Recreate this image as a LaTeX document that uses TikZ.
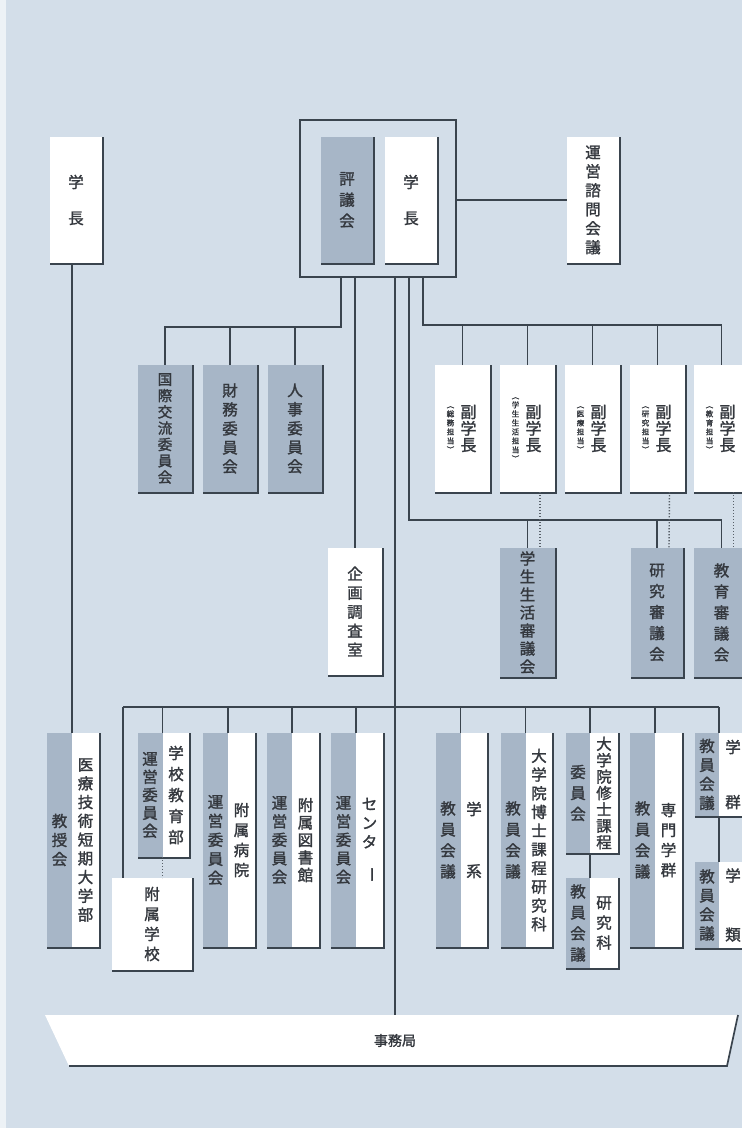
\documentclass[tikz,border=0pt]{standalone}
\usepackage{fontspec}
\usepackage{graphicx}
\newfontfamily\jp[FakeBold=1.6]{Noto Sans CJK JP}
\definecolor{bg}{RGB}{211,222,233}
\definecolor{gbox}{RGB}{167,182,199}
\definecolor{lnc}{RGB}{58,68,78}
\definecolor{txt}{RGB}{52,56,62}
\tikzset{
  ln/.style={draw=lnc, line width=1.6},
  dotl/.style={draw=lnc!85, line width=1.4, dash pattern=on 1.3 off 1.7},
  shl/.style={draw=lnc, line width=1.7},
  wbox/.style={fill=white, inner sep=0, outer sep=0, text=txt},
  gbx/.style={fill=gbox, inner sep=0, outer sep=0, text=txt},
  vt/.style={align=center, text=txt, inner sep=0, font={\jp\fontsize{15.5}{#1}\selectfont}},
  vs/.style={align=center, text=txt, inner sep=0, font={\jp\fontsize{7.5}{9}\selectfont}},
}
\newcommand\shd[2]{\draw[shl] ([shift={(0.8,0)}]#1.north east) -- ([shift={(0.8,0.8)}]#1.south east) -- ([shift={(0,0.8)}]#2.south west);}
\begin{document}
\begin{tikzpicture}[x=1pt,y=-1pt]
\useasboundingbox (0,0) rectangle (742,1128);
\clip (0,0) rectangle (742,1128);
\fill[bg] (0,0) rectangle (742,1128);
\fill[white!60!bg] (0,0) rectangle (6,1128);

% ---------- top ----------
\node[wbox, minimum width=52, minimum height=126, vt=36] (gl) at (76,200) {学\\長};
\node[draw=lnc, line width=1.8, minimum width=156, minimum height=157, inner sep=0] (frame) at (378,198.5) {};
\node[gbx, minimum width=52, minimum height=126, vt=21] (hyo) at (347,200) {評\\議\\会};
\node[wbox, minimum width=52, minimum height=126, vt=36] (gc) at (411,200) {学\\長};
\node[wbox, minimum width=52, minimum height=126, vt=19] (us) at (593,200) {運\\営\\諮\\問\\会\\議};
\shd{gl}{gl} \shd{hyo}{hyo} \shd{gc}{gc} \shd{us}{us}
\draw[ln] (us.west -| frame.east) -- (us.west);

% ---------- committees ----------
\node[gbx, minimum width=54, minimum height=127, vt=16.3, font={\jp\fontsize{14.5}{16.3}\selectfont}] (kok) at (165,428.5) {国\\際\\交\\流\\委\\員\\会};
\node[gbx, minimum width=54, minimum height=127, vt=19] (zai) at (230,428.5) {財\\務\\委\\員\\会};
\node[gbx, minimum width=54, minimum height=127, vt=19] (jin) at (295,428.5) {人\\事\\委\\員\\会};
\shd{kok}{kok} \shd{zai}{zai} \shd{jin}{jin}
\coordinate (b1) at (341,327);
\draw[ln] (frame.south -| b1) -- (b1) -| (kok.north);
\draw[ln] (zai.north) -- (zai.north |- b1);
\draw[ln] (jin.north) -- (jin.north |- b1);

% ---------- planning office ----------
\node[wbox, minimum width=54, minimum height=127, vt=19] (kik) at (355,611.5) {企\\画\\調\\査\\室};
\shd{kik}{kik}
\draw[ln] (frame.south -| kik.north) -- (kik.north);

% ---------- vice presidents ----------
\node[wbox, minimum width=55, minimum height=127] (vp1) at (462.5,428.5) {};
\node[wbox, minimum width=55, minimum height=127] (vp2) at (527.5,428.5) {};
\node[wbox, minimum width=55, minimum height=127] (vp3) at (592.5,428.5) {};
\node[wbox, minimum width=55, minimum height=127] (vp4) at (657.5,428.5) {};
\node[wbox, minimum width=55, minimum height=127] (vp5) at (721.5,428.5) {};
\shd{vp1}{vp1} \shd{vp2}{vp2} \shd{vp3}{vp3} \shd{vp4}{vp4} \shd{vp5}{vp5}
\node[vt=16.5, font={\jp\fontsize{16}{16.5}\selectfont}] (vp1m) at ([xshift=6]vp1.center) {副\\学\\長};
\node[vt=16.5, font={\jp\fontsize{16}{16.5}\selectfont}] (vp2m) at ([xshift=6]vp2.center) {副\\学\\長};
\node[vt=16.5, font={\jp\fontsize{16}{16.5}\selectfont}] (vp3m) at ([xshift=6]vp3.center) {副\\学\\長};
\node[vt=16.5, font={\jp\fontsize{16}{16.5}\selectfont}] (vp4m) at ([xshift=6]vp4.center) {副\\学\\長};
\node[vt=16.5, font={\jp\fontsize{16}{16.5}\selectfont}] (vp5m) at ([xshift=6]vp5.center) {副\\学\\長};
\node[vs] (vp1s) at ([xshift=-12,yshift=-1]vp1.center) {︵\\総\\務\\担\\当\\︶};
\node[vs] (vp2s) at ([xshift=-12,yshift=-1]vp2.center) {︵\\学\\生\\生\\活\\担\\当\\︶};
\node[vs] (vp3s) at ([xshift=-12,yshift=-1]vp3.center) {︵\\医\\療\\担\\当\\︶};
\node[vs] (vp4s) at ([xshift=-12,yshift=-1]vp4.center) {︵\\研\\究\\担\\当\\︶};
\node[vs] (vp5s) at ([xshift=-12,yshift=-1]vp5.center) {︵\\教\\育\\担\\当\\︶};
\coordinate (b2) at (423,325);
\draw[ln] (frame.south -| b2) -- (b2) -| (vp5.north);
\foreach \v in {vp1,vp2,vp3,vp4} \draw[ln] (\v.north) -- (\v.north |- b2);

% ---------- councils ----------
\node[gbx, minimum width=55, minimum height=129, vt=18] (gsc) at (527.5,612.5) {学\\生\\生\\活\\審\\議\\会};
\node[gbx, minimum width=53, minimum height=129, vt=21] (ksc) at (657,612.5) {研\\究\\審\\議\\会};
\node[gbx, minimum width=55, minimum height=129, vt=21] (esc) at (721.5,612.5) {教\\育\\審\\議\\会};
\shd{gsc}{gsc} \shd{ksc}{ksc} \shd{esc}{esc}
\coordinate (b3) at (409,520);
\draw[ln] (frame.south -| b3) -- (b3) -| (esc.north);
\draw[ln] (gsc.north) -- (gsc.north |- b3);
\draw[ln] (ksc.north) -- (ksc.north |- b3);
\draw[dotl] ([xshift=12.5]vp2.south) -- ([xshift=12.5]gsc.north);
\draw[dotl] ([xshift=12]vp4.south) -- ([xshift=12]ksc.north);
\draw[dotl] ([xshift=12]vp5.south) -- ([xshift=12]esc.north);

% ---------- bottom row ----------
\node[gbx, minimum width=25, minimum height=214, vt=19] (tdg) at (59.5,840) {教\\授\\会};
\node[wbox, minimum width=27, minimum height=214, vt=18.75] (tdw) at (85.5,840) {医\\療\\技\\術\\短\\期\\大\\学\\部};
\shd{tdw}{tdg}
\draw[ln] (tdw.north west) -- (tdw.north west |- gl.south);

\node[gbx, minimum width=25, minimum height=124, vt=18] (gkg) at (150,795) {運\\営\\委\\員\\会};
\node[wbox, minimum width=27, minimum height=124, vt=21] (gkw) at (176,795) {学\\校\\教\\育\\部};
\shd{gkw}{gkg}
\node[wbox, minimum width=80, minimum height=92, vt=20] (gakko) at (152,924) {附\\属\\学\\校};
\shd{gakko}{gakko}

\node[gbx, minimum width=25, minimum height=214, vt=19] (hpg) at (215.5,840) {運\\営\\委\\員\\会};
\node[wbox, minimum width=27, minimum height=214, vt=20] (hpw) at (241.5,840) {附\\属\\病\\院};
\shd{hpw}{hpg}
\node[gbx, minimum width=25, minimum height=214, vt=18.5] (lbg) at (279.5,840) {運\\営\\委\\員\\会};
\node[wbox, minimum width=27, minimum height=214, vt=17.5] (lbw) at (305.5,840) {附\\属\\図\\書\\館};
\shd{lbw}{lbg}
\node[gbx, minimum width=25, minimum height=214, vt=18.5] (cng) at (343.5,840) {運\\営\\委\\員\\会};
\node[wbox, minimum width=27, minimum height=214, vt=19] (cnw) at (369.5,840) {セ\\ン\\タ\\\rotatebox{-90}{ー}};
\shd{cnw}{cng}

\node[gbx, minimum width=25, minimum height=214, vt=21] (kkg) at (448,840) {教\\員\\会\\議};
\node[wbox, minimum width=27, minimum height=214, vt=62] (kkw) at (474,840) {学\\系};
\shd{kkw}{kkg}
\node[gbx, minimum width=25, minimum height=214, vt=21] (hkg) at (513,840) {教\\員\\会\\議};
\node[wbox, minimum width=27, minimum height=214, vt=18.7] (hkw) at (539,840) {大\\学\\院\\博\\士\\課\\程\\研\\究\\科};
\shd{hkw}{hkg}
\node[gbx, minimum width=24, minimum height=120, vt=21] (ssg) at (578,793) {委\\員\\会};
\node[wbox, minimum width=28, minimum height=120, vt=16.4] (ssw) at (604,793) {大\\学\\院\\修\\士\\課\\程};
\shd{ssw}{ssg}
\node[gbx, minimum width=24, minimum height=90, vt=21] (kyg) at (578,923) {教\\員\\会\\議};
\node[wbox, minimum width=28, minimum height=90, vt=20] (kyw) at (604,923) {研\\究\\科};
\shd{kyw}{kyg}
\draw[ln] (ssg.south east) -- (kyg.north east);
\node[gbx, minimum width=25, minimum height=214, vt=21] (smg) at (642.5,840) {教\\員\\会\\議};
\node[wbox, minimum width=27, minimum height=214, vt=20] (smw) at (668.5,840) {専\\門\\学\\群};
\shd{smw}{smg}
\node[gbx, minimum width=24, minimum height=83, vt=19] (ggg) at (707,774.5) {教\\員\\会\\議};
\node[wbox, minimum width=28, minimum height=83, vt=55] (ggw) at (733,774.5) {学\\群};
\shd{ggw}{ggg}
\node[gbx, minimum width=24, minimum height=86, vt=19] (grg) at (707,905) {教\\員\\会\\議};
\node[wbox, minimum width=28, minimum height=86, vt=59] (grw) at (733,905) {学\\類};
\shd{grw}{grg}
\draw[ln] (ggg.south east) -- (grg.north east);

\coordinate (bl) at (123,707);
\coordinate (br) at (719,707);
\draw[ln] (bl) -- (br);
\draw[ln] (bl) -- (bl |- gakko.north);
\foreach \w in {gkw,hpw,lbw,cnw,kkw,hkw,ssw,smw,ggw} \draw[ln] (\w.north west) -- (\w.north west |- bl);
\draw[dotl] (gkw.south west) -- (gkw.south west |- gakko.north);

% ---------- secretariat ----------
\fill[white] (45,1015) -- (738,1015) -- (727,1066) -- (69,1066) -- cycle;
\draw[shl] (738,1015) -- (727,1066) -- (69,1066);
\node[text=txt, inner sep=0, minimum height=51, minimum width=300, font={\jp\fontsize{14}{14}\selectfont}] (jimu) at (395,1040.5) {事務局};
\draw[ln] (frame.south -| jimu.north) -- (jimu.north);
\end{tikzpicture}
\end{document}
